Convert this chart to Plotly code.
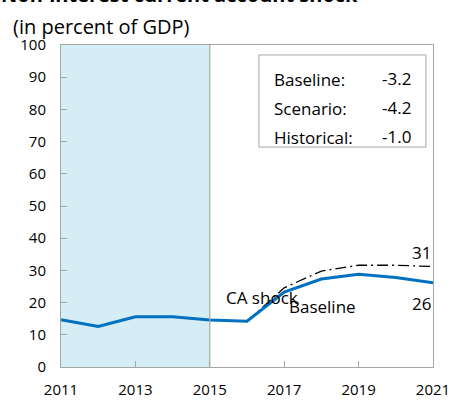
import plotly.graph_objects as go

years = [2011, 2012, 2013, 2014, 2015, 2016, 2017, 2018, 2019, 2020, 2021]
baseline = [14.7, 12.6, 15.6, 15.6, 14.6, 14.2, 23.3, 27.3, 28.8, 27.8, 26.2]
shock_years = [2016, 2017, 2018, 2019, 2020, 2021]
ca_shock = [14.2, 24.6, 29.8, 31.6, 31.6, 31.2]
box_labels = ["Baseline:", "Scenario:", "Historical:"]
box_values = ["-3.2", "-4.2", "-1.0"]
box_rows = [89.3, 80.3, 71.3]

font = "Open Sans, Noto Sans, sans-serif"
grey = "#a6a6a6"

fig = go.Figure()
fig.add_vrect(x0=2011, x1=2015, fillcolor="#d5edf4", line_width=0, layer="below")
fig.add_vline(x=2015, line_color=grey, line_width=1.2)

fig.add_trace(go.Scatter(x=shock_years, y=ca_shock, mode="lines",
                         line=dict(color="black", width=1.3, dash="11px,4px,2px,4px")))
fig.add_trace(go.Scatter(x=years, y=baseline, mode="lines",
                         line=dict(color="#0070c0", width=3)))

# title, mostly cut off at the top of the picture as in the source
fig.add_annotation(x=0, y=1.11, xref="paper", yref="paper", xanchor="left", yanchor="bottom",
                   xshift=-62, text="<b>Non-interest current account shock</b>",
                   showarrow=False, font=dict(size=20, color="black"))
fig.add_annotation(x=0, y=1.0, xref="paper", yref="paper", xanchor="left", yanchor="middle",
                   xshift=-50, yshift=19, text="(in percent of GDP)",
                   showarrow=False, font=dict(size=20, color="black"))

fig.add_shape(type="rect", xref="x", yref="y", x0=2016.32, x1=2020.81, y0=68.3, y1=96.9,
              line=dict(color=grey, width=1), fillcolor="white")
for lab, val, yy in zip(box_labels, box_values, box_rows):
    fig.add_annotation(x=2016.66, y=yy, xref="x", yref="y", xanchor="left",
                       text=lab, showarrow=False, font=dict(size=17))
    fig.add_annotation(x=2020.47, y=yy + 0.4, xref="x", yref="y", xanchor="right",
                       text=val, showarrow=False, font=dict(size=17))

fig.add_annotation(x=2021, y=ca_shock[-1], xref="x", yref="y", xanchor="right", yanchor="bottom",
                   yshift=1, text=str(round(ca_shock[-1])), showarrow=False, font=dict(size=17))
fig.add_annotation(x=2021, y=baseline[-1], xref="x", yref="y", xanchor="right", yanchor="top",
                   yshift=-7, text=str(round(baseline[-1])), showarrow=False, font=dict(size=17))
fig.add_annotation(x=2016.4, y=21.6, xref="x", yref="y", text="CA shock",
                   showarrow=False, font=dict(size=17))
fig.add_annotation(x=2018.02, y=18.9, xref="x", yref="y", text="Baseline",
                   showarrow=False, font=dict(size=17))

fig.update_layout(
    width=456, height=400,
    margin=dict(l=61, r=23, t=45, b=33, autoexpand=False),
    paper_bgcolor="white", plot_bgcolor="white",
    showlegend=False,
    font=dict(family=font, size=15, color="black"),
)
fig.update_xaxes(range=[2011, 2021], tickvals=[2011, 2013, 2015, 2017, 2019, 2021],
                 ticks="inside", ticklen=6, tickcolor=grey, showgrid=False,
                 showline=True, linecolor=grey, mirror=True, zeroline=False,
                 automargin=False, ticklabelstandoff=9, tickfont=dict(size=15))
fig.update_yaxes(range=[0, 100], dtick=10, ticks="inside", ticklen=6, tickcolor=grey,
                 showgrid=False, showline=True, linecolor=grey, mirror=True, zeroline=False,
                 automargin=False, ticklabelstandoff=11, tickfont=dict(size=15))

# the page's default body margin would shift the 456x400 figure inside the window
fig.write_html("out.html", config={"displayModeBar": False},
               post_script="document.body.style.margin = '0';")
